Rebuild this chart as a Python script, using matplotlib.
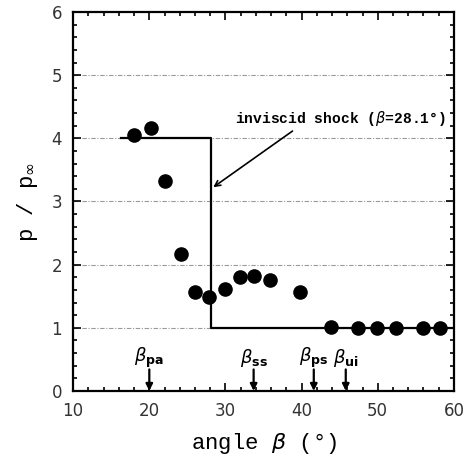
import matplotlib.pyplot as plt
from matplotlib.ticker import MultipleLocator

# measured points
angle = [18, 20.2, 22.1, 24.1, 26, 27.9, 30, 31.9, 33.8, 35.8, 39.8,
         43.8, 47.4, 49.9, 52.4, 56, 58.2]
p_ratio = [4.06, 4.16, 3.32, 2.17, 1.56, 1.49, 1.61, 1.80, 1.82, 1.76, 1.57,
           1.01, 0.99, 0.99, 0.99, 0.99, 0.99]

# inviscid shock step
shock_x = [16.3, 28.1, 28.1, 60]
shock_y = [4.0, 4.0, 1.0, 1.0]

# characteristic angles
beta_pos = [20, 33.7, 41.6, 45.8]
beta_lab = [r"$\beta_{\mathbf{pa}}$", r"$\beta_{\mathbf{ss}}$",
            r"$\beta_{\mathbf{ps}}$", r"$\beta_{\mathbf{ui}}$"]

fig = plt.figure(figsize=(4.66, 4.61), dpi=100)
ax = fig.add_axes([0.157, 0.152, 0.817, 0.822])

for g in [1, 2, 3, 4, 5]:
    ax.axhline(g, color="#9a9a9a", lw=0.8, ls=(0, (4, 1.5, 1, 1.5)), zorder=0)

ax.plot(shock_x, shock_y, color="black", lw=1.6, zorder=2)
ax.scatter(angle, p_ratio, s=90, color="black", zorder=3)

ax.annotate("", xy=(28.1, 3.2), xytext=(39.1, 4.14),
            arrowprops=dict(arrowstyle="->", color="black", lw=1.2))
ax.text(31.3, 4.31, r"inviscid shock ($\beta$=28.1°)", fontsize=10.5,
        fontweight="bold", family="Liberation Mono", va="center")

for xp, lab in zip(beta_pos, beta_lab):
    ax.annotate("", xy=(xp, 0.0), xytext=(xp, 0.34),
                arrowprops=dict(arrowstyle="-|>", color="black", lw=1.6,
                                mutation_scale=10, shrinkA=0, shrinkB=0))
    ax.text(xp, 0.52, lab, ha="center", va="center", fontsize=13)

ax.set_xlim(10, 60)
ax.set_ylim(0, 6)
ax.xaxis.set_major_locator(MultipleLocator(10))
ax.xaxis.set_minor_locator(MultipleLocator(2))
ax.yaxis.set_major_locator(MultipleLocator(1))
ax.yaxis.set_minor_locator(MultipleLocator(0.2))
ax.tick_params(which="both", direction="in", top=True, right=True, width=1.2)
ax.tick_params(which="major", length=6, labelsize=12, pad=8, labelcolor="#333333")
ax.tick_params(which="minor", length=3)
for s in ax.spines.values():
    s.set_linewidth(1.6)

ax.set_xlabel(r"angle $\beta$ (°)", fontsize=16, family="Liberation Mono", labelpad=8)
ax.set_ylabel(r"p / p$_\infty$", fontsize=16, family="Liberation Mono", labelpad=8)

fig.savefig("out.png", dpi=100)
